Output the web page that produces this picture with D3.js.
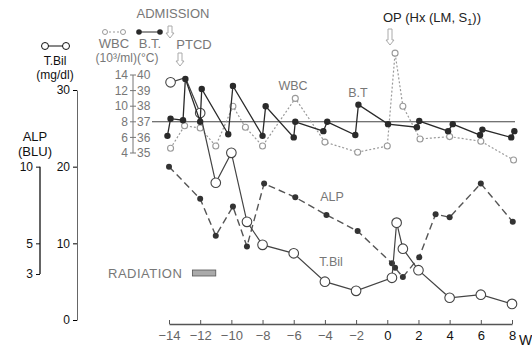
<!DOCTYPE html>
<html>
<head>
<meta charset="utf-8">
<script src="https://cdn.jsdelivr.net/npm/d3@7"></script>
<style>
  body { margin: 0; background: #fff; }
  text { font-family: "Liberation Sans", Arial, sans-serif; }
</style>
</head>
<body>
<svg id="chart" width="532" height="353"></svg>
<script>
// weeks relative to operation
const weekTicks = [-14, -12, -10, -8, -6, -4, -2, 0, 2, 4, 6, 8];

// total bilirubin (mg/dl)
const tbilWeeks  = [-13.9, -12.95, -12, -11, -10, -9, -8, -6, -4, -2, 0.3, 0.6, 1, 2, 4, 6, 8];
const tbilValues = [31.0, 31.6, 27.0, 17.9, 21.8, 12.8, 9.8, 8.7, 5.0, 3.8, 5.5, 12.7, 9.3, 6.5, 2.9, 3.3, 2.1];

// alkaline phosphatase (BLU)
const alpWeeks  = [-14, -12, -11, -9.9, -9, -7.9, -5.9, -3.9, -1.9, 0.3, 0.5, 1, 2.05, 3.1, 4, 6, 8.05];
const alpValues = [10.0, 7.9, 5.5, 7.4, 4.8, 8.9, 8.0, 6.85, 5.8, 3.7, 3.4, 2.8, 4.1, 6.9, 6.7, 8.9, 6.4];

// white blood cells (10^3/ml)
const wbcWeeks  = [-13.9, -13, -12, -11, -9.9, -9.1, -8, -5.9, -4, -1.9, 0, 0.5, 1, 2.1, 4, 6, 8.1];
const wbcValues = [4.6, 7.5, 7.2, 4.9, 10.0, 7.3, 4.9, 11.0, 5.4, 4.1, 4.9, 16.8, 10.0, 5.8, 6.1, 5.5, 3.1];

// body temperature (°C)
const btWeeks  = [-14.1, -13.9, -13.1, -12.95, -12.0, -11.9, -10.2, -9.9, -8.0, -7.8, -6.0, -5.9, -4.1, -3.85,
                  -2.05, -1.85, 0.05, 1.9, 2.05, 3.9, 4.2, 5.95, 6.1, 7.95, 8.15];
const btValues = [36.1, 37.2, 37.1, 39.75, 37.0, 39.1, 36.2, 39.3, 36.1, 38.0, 36.0, 37.0, 36.4, 37.0,
                  36.15, 38.1, 36.85, 36.65, 37.05, 36.4, 36.85, 36.15, 36.5, 36.0, 36.4];

const tbilTicks = [0, 10, 20, 30];
const alpTicks = [3, 5, 10];
const wbcTicks = [4, 6, 8, 10, 12, 14];
const btTicks = [35, 36, 37, 38, 39, 40];

const radiation = [-12.5, -11];

const svg = d3.select("#chart");
const grey = "#777", dark = "#2a2a2a";

const x = d3.scaleLinear().domain([-14, 8]).range([169, 512]);
const yBil = d3.scaleLinear().domain([0, 30]).range([320, 90]);
const yAlp = d3.scaleLinear().domain([0, 15]).range([320, 90]);
const yWbc = d3.scaleLinear().domain([4, 14]).range([153, 75]);
const yBt = d3.scaleLinear().domain([35, 40]).range([153, 75]);

// x axis
const xAxis = svg.append("g")
  .attr("transform", "translate(0,324)")
  .call(d3.axisBottom(x).tickValues(weekTicks).tickSizeInner(-4).tickSizeOuter(0).tickPadding(7)
    .tickFormat(d => d < 0 ? "\u2212" + (-d) : d));
xAxis.select(".domain").attr("stroke", "#555").attr("stroke-width", 1.3);
xAxis.selectAll(".tick line").attr("stroke", "#555");
xAxis.selectAll(".tick text").attr("font-size", 13).attr("fill", d => d < 0 ? "#666" : "#111");
svg.append("text").attr("x", 519).attr("y", 345).attr("font-size", 14).attr("fill", "#111").text("W");

// T.Bil axis
const bilAxis = svg.append("g")
  .attr("transform", "translate(77,0)")
  .call(d3.axisLeft(yBil).tickValues(tbilTicks).tickSizeInner(4).tickSizeOuter(0).tickPadding(3));
bilAxis.select(".domain").attr("stroke", "#666");
bilAxis.selectAll(".tick text").attr("font-size", 12).attr("fill", "#111");

// ALP axis (only 3 to 10)
const alpAxis = svg.append("g")
  .attr("transform", "translate(40,0)")
  .call(d3.axisLeft(yAlp).tickValues(alpTicks).tickSizeInner(4).tickSizeOuter(0).tickPadding(3));
alpAxis.select(".domain").remove();
alpAxis.append("line").attr("x1", 0).attr("x2", 0)
  .attr("y1", yAlp(10)).attr("y2", yAlp(3)).attr("stroke", "#111").attr("stroke-width", 1.3);
alpAxis.selectAll(".tick line").attr("stroke", "#111");
alpAxis.selectAll(".tick text").attr("font-size", 12).attr("fill", "#111");

// WBC / B.T. axis
const wbAxis = svg.append("g").attr("transform", "translate(133,0)");
wbAxis.append("line").attr("y1", yWbc(14)).attr("y2", yWbc(4)).attr("stroke", grey);
wbAxis.selectAll("line.t").data(wbcTicks).join("line")
  .attr("x1", -3).attr("x2", 3).attr("y1", d => yWbc(d)).attr("y2", d => yWbc(d)).attr("stroke", grey);
wbAxis.selectAll("text.w").data(wbcTicks).join("text")
  .attr("x", -5).attr("y", d => yWbc(d)).attr("dy", "0.35em").attr("text-anchor", "end")
  .attr("font-size", 12).attr("fill", grey).text(d => d);
wbAxis.selectAll("text.b").data(btTicks).join("text")
  .attr("x", 4).attr("y", d => yBt(d)).attr("dy", "0.35em")
  .attr("font-size", 12).attr("fill", grey).text(d => d);

// 37 degree reference line
svg.append("line").attr("x1", 152).attr("x2", 515).attr("y1", yBt(37)).attr("y2", yBt(37))
  .attr("stroke", "#444").attr("stroke-width", 1.1);

const line = (xs, ys, sc) => d3.line()(xs.map((w, i) => [x(w), sc(ys[i])]));

// WBC
svg.append("path").attr("d", line(wbcWeeks, wbcValues, yWbc))
  .attr("fill", "none").attr("stroke", "#999").attr("stroke-width", 1.2).attr("stroke-dasharray", "2,2");
svg.selectAll("circle.wbc").data(wbcWeeks).join("circle")
  .attr("cx", d => x(d)).attr("cy", (d, i) => yWbc(wbcValues[i])).attr("r", 3)
  .attr("fill", "#fff").attr("stroke", "#999").attr("stroke-width", 1.1);

// ALP
svg.append("path").attr("d", line(alpWeeks, alpValues, yAlp))
  .attr("fill", "none").attr("stroke", "#555").attr("stroke-width", 1.4).attr("stroke-dasharray", "7,4");
svg.selectAll("circle.alp").data(alpWeeks).join("circle")
  .attr("cx", d => x(d)).attr("cy", (d, i) => yAlp(alpValues[i])).attr("r", 3)
  .attr("fill", "#333");

// T.Bil (second reading sits under the B.T. dot, so no ring is drawn there)
svg.append("path").attr("d", line(tbilWeeks, tbilValues, yBil))
  .attr("fill", "none").attr("stroke", "#444").attr("stroke-width", 1.2);
svg.selectAll("circle.bil").data(tbilWeeks.filter((d, i) => i !== 1)).join("circle")
  .attr("cx", d => x(d)).attr("cy", d => yBil(tbilValues[tbilWeeks.indexOf(d)])).attr("r", 4.8)
  .attr("fill", "#fff").attr("stroke", "#444").attr("stroke-width", 1.1);

// B.T.
svg.append("path").attr("d", line(btWeeks, btValues, yBt))
  .attr("fill", "none").attr("stroke", dark).attr("stroke-width", 1.3);
svg.selectAll("circle.bt").data(btWeeks).join("circle")
  .attr("cx", d => x(d)).attr("cy", (d, i) => yBt(btValues[i])).attr("r", 3.2)
  .attr("fill", dark);

// radiation bar
svg.append("rect").attr("x", x(radiation[0])).attr("y", 270)
  .attr("width", x(radiation[1]) - x(radiation[0])).attr("height", 6)
  .attr("fill", "#aaa").attr("stroke", "#555").attr("stroke-width", 0.8);
svg.append("text").attr("x", 108).attr("y", 278).attr("font-size", 13).attr("letter-spacing", 0.5)
  .attr("fill", grey).text("RADIATION");

// labels
const label = (tx, ty, s, fill, anchor, size) => svg.append("text").attr("x", tx).attr("y", ty)
  .attr("font-size", size || 12).attr("fill", fill).attr("text-anchor", anchor || "start").text(s);

label(55, 65, "T.Bil", "#111", "middle");
label(55, 79, "(mg/dl)", "#111", "middle");
svg.append("line").attr("x1", 45).attr("x2", 66).attr("y1", 46).attr("y2", 46).attr("stroke", "#111");
svg.selectAll("circle.sym").data([45, 66]).join("circle").attr("cx", d => d).attr("cy", 46).attr("r", 3.5)
  .attr("fill", "#fff").attr("stroke", "#111");

label(35, 141, "ALP", "#111", "middle", 13);
label(35, 156, "(BLU)", "#111", "middle", 13);

label(173, 18, "ADMISSION", grey, "middle", 13);
label(114, 48, "WBC", grey, "middle", 13);
label(150, 48, "B.T.", grey, "middle", 13);
label(194, 49, "PTCD", grey, "middle", 13);
label(127, 62, "(10\u00b3/ml)(\u00b0C)", grey, "middle", 12);
svg.append("line").attr("x1", 105).attr("x2", 123).attr("y1", 32).attr("y2", 32)
  .attr("stroke", "#999").attr("stroke-dasharray", "2,2");
svg.selectAll("circle.wsym").data([105, 123]).join("circle").attr("cx", d => d).attr("cy", 32).attr("r", 2.5)
  .attr("fill", "#fff").attr("stroke", "#999");
svg.append("line").attr("x1", 139).attr("x2", 160).attr("y1", 32).attr("y2", 32).attr("stroke", dark);
svg.selectAll("circle.bsym").data([139, 160]).join("circle").attr("cx", d => d).attr("cy", 32).attr("r", 2.8)
  .attr("fill", dark);

// event arrows
const arrow = (ax, ay, h) => svg.append("path")
  .attr("d", `M${ax - 2},${ay} L${ax + 2},${ay} L${ax + 2},${ay + h - 5} L${ax + 4},${ay + h - 5} L${ax},${ay + h} L${ax - 4},${ay + h - 5} L${ax - 2},${ay + h - 5} Z`)
  .attr("fill", "none").attr("stroke", "#aaa").attr("stroke-width", 1);
arrow(170, 26, 12);
arrow(180, 53, 13);
arrow(390, 29, 16);

label(293, 90, "WBC", grey, "middle", 12.5);
label(358, 97, "B.T", grey, "middle", 12.5);
label(332, 201, "ALP", grey, "middle", 12.5);
label(331, 266, "T.Bil", grey, "middle", 12.5);

const op = svg.append("text").attr("x", 383).attr("y", 22).attr("font-size", 13).attr("fill", "#222");
op.append("tspan").text("OP (Hx (LM, S");
op.append("tspan").attr("font-size", 9).attr("dy", 3).text("1");
op.append("tspan").attr("dy", -3).text("))");
</script>
</body>
</html>
